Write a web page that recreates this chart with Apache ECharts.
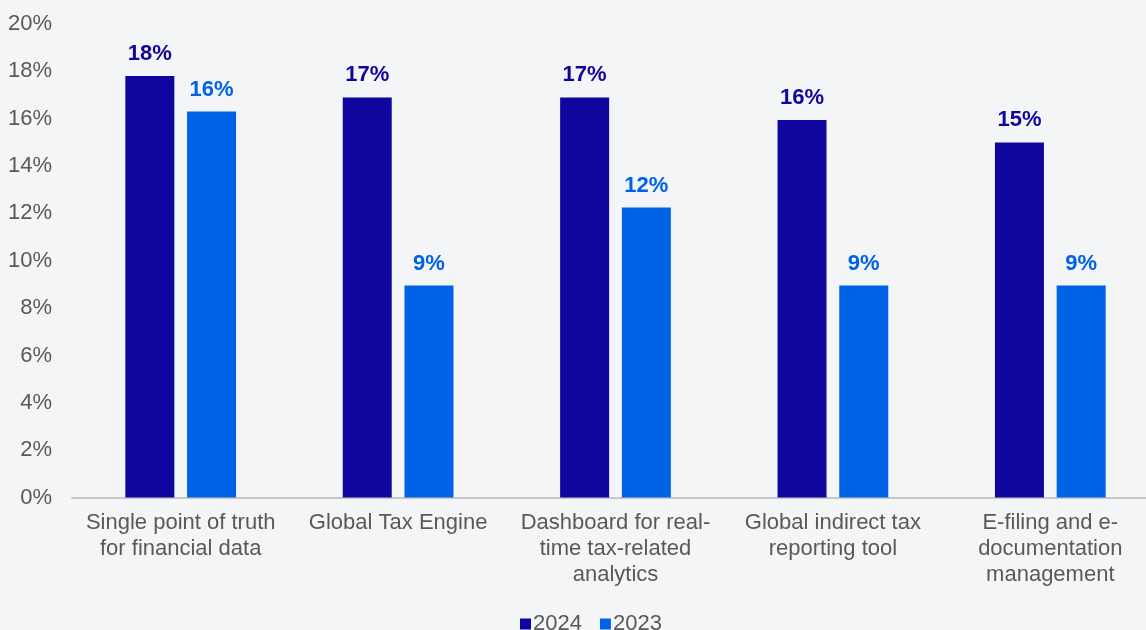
<!DOCTYPE html>
<html>
<head>
<meta charset="utf-8">
<style>
  html, body { margin: 0; padding: 0; background: #F4F5F7; overflow: hidden; }
  /* the plot runs slightly past the right edge of the page */
  #chart { width: 1159px; height: 630px; }
</style>
<script src="https://cdn.jsdelivr.net/npm/echarts@6/dist/echarts.min.js"></script>
</head>
<body>
<div id="chart"></div>
<script>
// Tax technology priorities, share of respondents
const categories = [
  'Single point of truth\nfor financial data',
  'Global Tax Engine',
  'Dashboard for real-\ntime tax-related\nanalytics',
  'Global indirect tax\nreporting tool',
  'E-filing and e-\ndocumentation\nmanagement'
];
const values2024 = [17.8, 16.9, 16.9, 15.95, 15.0];
const values2023 = [16.3, 8.95, 12.25, 8.95, 8.95];
const seriesNames = ['2024', '2023'];
const colors = ['#10069F', '#0062E6'];

const FONT = '"Liberation Sans", Arial, sans-serif';

function barSeries(name, data, color) {
  return {
    name: name,
    type: 'bar',
    data: data,
    barWidth: 49,
    barGap: '26%',
    itemStyle: { color: color },
    label: {
      show: true,
      position: 'top',
      distance: 11,
      color: color,
      fontFamily: FONT,
      fontSize: 22,
      fontWeight: 'bold',
      formatter: p => Math.round(p.value) + '%'
    }
  };
}

const chart = echarts.init(document.getElementById('chart'));
chart.setOption({
  backgroundColor: '#F4F5F7',
  animation: false,
  textStyle: { fontFamily: FONT },
  color: colors,
  grid: { left: 72, top: 24, right: 0, bottom: 132.5, containLabel: false },
  legend: {
    data: seriesNames,
    top: 608,
    left: 515,
    icon: 'rect',
    itemWidth: 11,
    itemHeight: 11,
    itemGap: 18,
    textStyle: { color: '#595959', fontSize: 22, fontFamily: FONT, padding: [0, 0, 0, -3] }
  },
  xAxis: {
    type: 'category',
    data: categories,
    axisLine: { show: true, lineStyle: { color: '#C8C8C8', width: 2 } },
    axisTick: { show: false },
    axisLabel: {
      color: '#595959',
      fontSize: 22,
      fontFamily: FONT,
      lineHeight: 26,
      margin: 12,
      interval: 0
    }
  },
  yAxis: {
    type: 'value',
    min: 0,
    max: 20,
    interval: 2,
    splitLine: { show: false },
    axisLine: { show: false },
    axisTick: { show: false },
    axisLabel: {
      color: '#595959',
      fontSize: 22,
      fontFamily: FONT,
      margin: 20,
      formatter: v => v + '%'
    }
  },
  series: [
    barSeries(seriesNames[0], values2024, colors[0]),
    barSeries(seriesNames[1], values2023, colors[1])
  ]
});
</script>
</body>
</html>
